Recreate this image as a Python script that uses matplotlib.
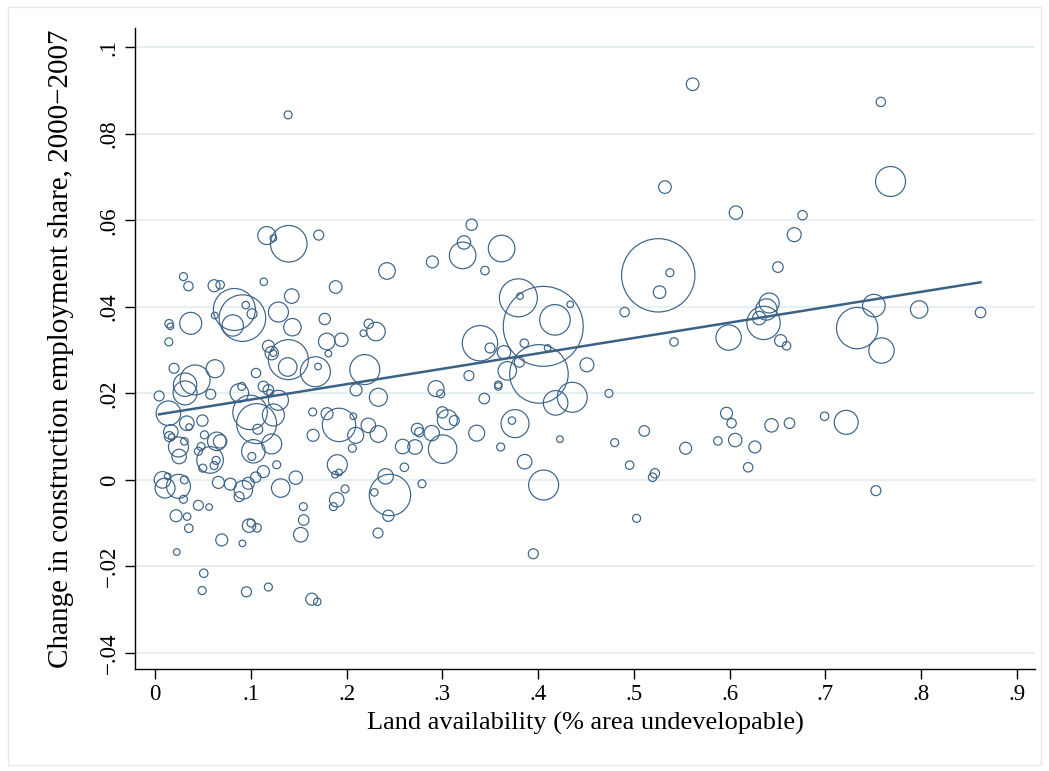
import numpy as np
import matplotlib.pyplot as plt
from matplotlib.patches import Rectangle

# land availability (share of area undevelopable)
land_avail = [
    0.1166, 0.1235, 0.1396, 0.1709, 0.0296, 0.0348, 0.0616, 0.0679, 0.1135, 0.1886,
    0.1427, 0.0828, 0.0912, 0.0947, 0.1013, 0.0811, 0.0623, 0.0372, 0.0146, 0.0160,
    0.0143, 0.1288, 0.1434, 0.1772, 0.1793, 0.1945, 0.2175, 0.2231, 0.2307,
    0.1184, 0.1218, 0.1235, 0.1392, 0.1385, 0.1810, 0.1674, 0.1702, 0.2190, 0.0198,
    0.0626, 0.0418, 0.0313, 0.0313, 0.1054, 0.0042, 0.0139, 0.0581, 0.0331, 0.0355,
    0.0494, 0.0164, 0.0149, 0.0174, 0.0306, 0.0244, 0.0251, 0.0515, 0.0644, 0.0679,
    0.0480, 0.0452, 0.0574, 0.0637, 0.0616, 0.0498, 0.0992, 0.1060, 0.1072, 0.1218,
    0.1026, 0.1010, 0.0905, 0.0880, 0.1131, 0.1183, 0.1200, 0.1288, 0.1235, 0.1646,
    0.1796, 0.1921, 0.2070, 0.1650, 0.2095, 0.2060, 0.1903, 0.1879, 0.1921, 0.2099,
    0.0077, 0.0132, 0.0104, 0.0244, 0.0306, 0.0296, 0.0661, 0.0786, 0.0922, 0.0974,
    0.0877, 0.1051, 0.1131, 0.1270, 0.1312, 0.1469, 0.1897, 0.1984, 0.1862, 0.1548,
    0.0452, 0.0564,
    0.0219, 0.0334, 0.0352, 0.0696, 0.0912, 0.0981, 0.1002, 0.1065, 0.0226, 0.1552,
    0.1521, 0.0508, 0.0491, 0.0954, 0.1183, 0.1636, 0.1694,
    0.3306, 0.3226, 0.3212, 0.3619, 0.3445, 0.2896, 0.2422, 0.3794, 0.3811, 0.4054,
    0.4176, 0.4336, 0.3393, 0.3498, 0.3856, 0.4100,
    0.3644, 0.3804, 0.3678, 0.4009, 0.4510, 0.3278, 0.2332, 0.2934, 0.2983, 0.3438,
    0.3584, 0.3584, 0.4183, 0.4357, 0.3000, 0.3052, 0.3125, 0.2227, 0.2332, 0.2739,
    0.2760, 0.2889, 0.2586, 0.2715, 0.3003, 0.3359, 0.3759, 0.3727, 0.3609, 0.4228,
    0.3860, 0.2603, 0.2408, 0.2453, 0.2290, 0.2788, 0.4058,
    0.2436, 0.2328, 0.3950,
    0.5614, 0.7580, 0.7681, 0.5325, 0.6066, 0.6762, 0.6675, 0.6505, 0.5255, 0.5377,
    0.5269, 0.4904, 0.6414, 0.6385, 0.7507, 0.7980, 0.8621,
    0.6310, 0.6355, 0.7333, 0.7587, 0.5990, 0.6533, 0.6595, 0.5419, 0.4740, 0.5968,
    0.6021, 0.6059, 0.5878, 0.6438, 0.6626, 0.6992, 0.7218, 0.6264, 0.6194, 0.5109,
    0.4800, 0.5541, 0.4956, 0.5220, 0.5196, 0.7528, 0.5029,
    0.1389,
]

# change in construction employment share, 2000-2007
emp_change = [
    0.0565, 0.0559, 0.0546, 0.0566, 0.0470, 0.0448, 0.0449, 0.0451, 0.0458, 0.0446,
    0.0425, 0.0394, 0.0374, 0.0404, 0.0384, 0.0357, 0.0380, 0.0362, 0.0361, 0.0355,
    0.0319, 0.0388, 0.0353, 0.0372, 0.0320, 0.0324, 0.0339, 0.0361, 0.0343,
    0.0309, 0.0293, 0.0293, 0.0278, 0.0261, 0.0292, 0.0250, 0.0262, 0.0255, 0.0258,
    0.0257, 0.0231, 0.0220, 0.0201, 0.0247, 0.0194, 0.0154, 0.0198, 0.0131, 0.0122,
    0.0137, 0.0111, 0.0100, 0.0099, 0.0089, 0.0076, 0.0054, 0.0104, 0.0089, 0.0089,
    0.0077, 0.0066, 0.0046, 0.0045, 0.0033, 0.0027, 0.0156, 0.0130, 0.0117, 0.0083,
    0.0066, 0.0054, 0.0216, 0.0201, 0.0216, 0.0208, 0.0201, 0.0184, 0.0150, 0.0157,
    0.0153, 0.0127, 0.0147, 0.0103, 0.0103, 0.0073, 0.0035, 0.0012, 0.0017, 0.0208,
    0.0000, 0.0008, -0.0019, -0.0015, 0.0000, -0.0045, -0.0006, -0.0010, -0.0023, -0.0008,
    -0.0039, 0.0006, 0.0019, 0.0035, -0.0019, 0.0005, -0.0046, -0.0021, -0.0062, -0.0062,
    -0.0059, -0.0063,
    -0.0083, -0.0085, -0.0112, -0.0139, -0.0147, -0.0106, -0.0100, -0.0111, -0.0167, -0.0093,
    -0.0127, -0.0216, -0.0256, -0.0259, -0.0248, -0.0276, -0.0282,
    0.0590, 0.0549, 0.0519, 0.0535, 0.0484, 0.0504, 0.0483, 0.0421, 0.0425, 0.0355,
    0.0370, 0.0406, 0.0316, 0.0305, 0.0316, 0.0305,
    0.0295, 0.0272, 0.0252, 0.0245, 0.0266, 0.0241, 0.0191, 0.0211, 0.0199, 0.0188,
    0.0220, 0.0216, 0.0178, 0.0191, 0.0156, 0.0139, 0.0137, 0.0126, 0.0106, 0.0117,
    0.0110, 0.0108, 0.0077, 0.0076, 0.0071, 0.0108, 0.0130, 0.0137, 0.0076, 0.0094,
    0.0042, 0.0029, 0.0008, -0.0035, -0.0029, -0.0009, -0.0012,
    -0.0083, -0.0123, -0.0171,
    0.0915, 0.0874, 0.0690, 0.0677, 0.0618, 0.0612, 0.0567, 0.0492, 0.0473, 0.0479,
    0.0434, 0.0388, 0.0409, 0.0394, 0.0403, 0.0394, 0.0387,
    0.0374, 0.0363, 0.0351, 0.0299, 0.0329, 0.0322, 0.0310, 0.0319, 0.0200, 0.0154,
    0.0131, 0.0092, 0.0090, 0.0126, 0.0131, 0.0147, 0.0133, 0.0076, 0.0029, 0.0113,
    0.0086, 0.0073, 0.0034, 0.0015, 0.0006, -0.0025, -0.0089,
    0.0844,
]

# analytic weight of each area (bubble area)
weight = [
    81, 11, 335, 25, 16, 22, 36, 18, 14, 40,
    53, 441, 543, 14, 25, 114, 11, 121, 18, 11,
    16, 100, 76, 32, 69, 45, 11, 22, 86,
    36, 45, 11, 400, 86, 11, 225, 11, 225, 25,
    81, 225, 137, 144, 22, 25, 151, 25, 53, 11,
    32, 53, 25, 11, 14, 100, 53, 16, 86, 45,
    16, 16, 177, 16, 16, 16, 299, 400, 25, 100,
    137, 16, 16, 86, 28, 28, 11, 100, 121, 16,
    36, 279, 11, 36, 64, 16, 100, 11, 11, 36,
    69, 11, 100, 144, 16, 16, 36, 36, 86, 36,
    25, 28, 36, 16, 86, 45, 53, 16, 16, 16,
    25, 11,
    36, 14, 18, 36, 11, 45, 16, 18, 11, 28,
    53, 18, 16, 25, 16, 36, 14,
    32, 45, 177, 177, 18, 36, 69, 361, 11, 1600,
    234, 11, 313, 25, 18, 11,
    45, 25, 86, 858, 49, 25, 81, 64, 16, 28,
    14, 14, 151, 225, 32, 100, 25, 53, 69, 36,
    22, 59, 53, 53, 204, 64, 196, 14, 16, 11,
    53, 18, 59, 428, 14, 16, 225,
    32, 25, 25,
    40, 22, 225, 40, 45, 22, 49, 28, 1347, 16,
    40, 22, 100, 114, 128, 76, 28,
    45, 279, 428, 161, 161, 36, 18, 18, 16, 36,
    22, 45, 18, 45, 28, 18, 144, 36, 22, 28,
    16, 36, 18, 22, 18, 25, 16,
    16,
]

# weighted linear fit reported in the figure
fit_intercept = 0.0150
fit_slope = 0.0356

x_ticks = [0, 0.1, 0.2, 0.3, 0.4, 0.5, 0.6, 0.7, 0.8, 0.9]
x_ticklabels = ["0", ".1", ".2", ".3", ".4", ".5", ".6", ".7", ".8", ".9"]
y_ticks = [-0.04, -0.02, 0, 0.02, 0.04, 0.06, 0.08, 0.1]
y_ticklabels = ["\u2212.04", "\u2212.02", "0", ".02", ".04", ".06", ".08", ".1"]

navy = "#3a6287"
grid_col = "#e8eff2"

plt.rcParams["font.family"] = ["Liberation Serif", "DejaVu Serif"]

fig = plt.figure(figsize=(10.49, 7.71), dpi=100)
fig.patches.append(Rectangle((8 / 1049, 6 / 771), 1033 / 1049, 758 / 771,
                             transform=fig.transFigure, fill=False,
                             edgecolor="#e4e8ea", lw=1.0))
ax = fig.add_axes([135 / 1049, (771 - 669) / 771, 900 / 1049, (669 - 28) / 771])

sizes = np.array(weight) * 2.07
ax.scatter(land_avail, emp_change, s=sizes, facecolors="none", edgecolors=navy,
           linewidths=0.85, zorder=3)

xs = np.array([min(land_avail), max(land_avail)])
ax.plot(xs, fit_intercept + fit_slope * xs, color=navy, lw=1.8, zorder=4)

ax.set_xlim(-0.021, 0.919)
ax.set_ylim(-0.04375, 0.1045)
ax.set_xticks(x_ticks)
ax.set_xticklabels(x_ticklabels)
ax.set_yticks(y_ticks)
ax.set_yticklabels(y_ticklabels, rotation=90, va="center")
ax.tick_params(axis="both", direction="out", length=7, width=1.0, labelsize=16.5, pad=4)
ax.yaxis.grid(True, color=grid_col, lw=1.6, zorder=0)
ax.set_axisbelow(True)
for side in ["top", "right"]:
    ax.spines[side].set_visible(False)
ax.spines["left"].set_linewidth(1.0)
ax.spines["bottom"].set_linewidth(1.0)

ax.set_xlabel("Land availability (% area undevelopable)", fontsize=19, labelpad=5)
ax.set_ylabel("Change in construction employment share, 2000\u22122007", fontsize=21, labelpad=18)

fig.savefig("out.png", dpi=100)
